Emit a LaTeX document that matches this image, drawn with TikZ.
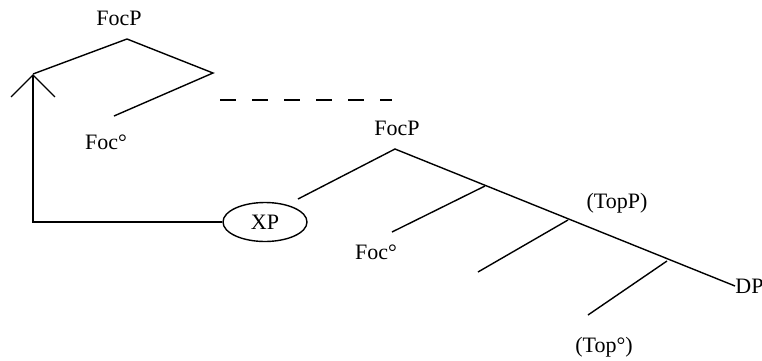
\documentclass[tikz,border=0pt]{standalone}
\usepackage{fontspec}
\setmainfont{Liberation Serif}
\usetikzlibrary{shapes.geometric,arrows.meta}
\tikzset{
  branch/.style={line width=0.7pt},
  tree label/.style={inner sep=0pt, font=\fontsize{11}{13}\selectfont},
  moved/.style={
    ellipse,
    draw,
    line width=0.7pt,
    minimum width=42pt,
    minimum height=19.5pt,
    inner sep=0pt,
    font=\fontsize{11}{13}\selectfont,
  },
}

\begin{document}
\begin{tikzpicture}[x=0.5pt,y=-0.5pt]
        \useasboundingbox (0,0) rectangle (762,360);

        % upper FocP
        \coordinate (top1) at (127,39);
        \coordinate (tip) at (33,74);
        \coordinate (bar1) at (213,73);
        \coordinate (spec1) at (114,116);
        \node [tree label] (focp1) at (119,18) {FocP};
        \node [tree label] (foc1) at (106,142) {Foc°};
        \draw [branch] (tip) -- (top1) -- (bar1) -- (spec1);

        \coordinate (dash start) at (220,100);
        \coordinate (dash end) at (392,100);
        \draw [branch, dash pattern=on 8pt off 8pt] (dash start) -- (dash end);

        % moved XP
        \node [moved] (xp) at (265,222) {XP};
        \coordinate (corner) at (33,222);
        \draw [branch, -{Straight Barb[length=11pt,width=22pt]}] (xp.west) -- (corner) -- (tip);

        % lower FocP
        \coordinate (top2) at (395,149);
        \coordinate (spec2) at (298,199);
        \coordinate (b1) at (485,186);
        \coordinate (s1) at (392,232);
        \coordinate (b2) at (568,220);
        \coordinate (s2) at (478,272);
        \coordinate (b3) at (667,261);
        \coordinate (s3) at (588,315);
        \node [tree label] (focp2) at (397,128) {FocP};
        \node [tree label] (foc2) at (376,252) {Foc°};
        \node [tree label] (topp) at (617,203) {(TopP)};
        \node [tree label] (top0) at (604,347) {(Top°)};
        \node [tree label, anchor=west] (dp) at (735,286) {DP};
        \draw [branch] (spec2) -- (top2) -- (dp.west);
        \draw [branch] (b1) -- (s1);
        \draw [branch] (b2) -- (s2);
        \draw [branch] (b3) -- (s3);
      \end{tikzpicture}
\end{document}
